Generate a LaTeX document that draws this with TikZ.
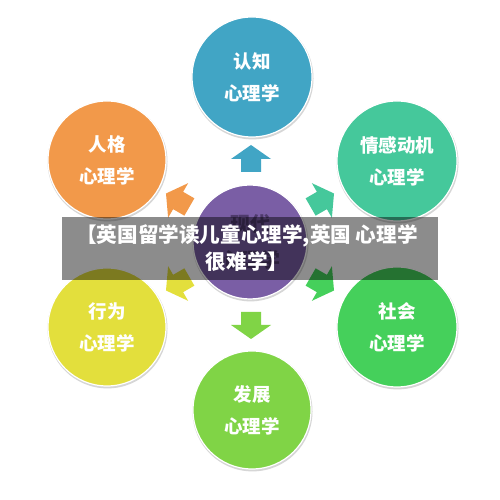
\documentclass[tikz,border=0pt]{standalone}
\usepackage{fontspec}
\newfontfamily\cjk{Noto Sans CJK SC}
\usetikzlibrary{calc}
\definecolor{cblue}{HTML}{41A5C5}
\definecolor{corange}{HTML}{F2994A}
\definecolor{cteal}{HTML}{45C89B}
\definecolor{cyellow}{HTML}{E3DF3C}
\definecolor{cgreen}{HTML}{45D05B}
\definecolor{clime}{HTML}{80D446}
\definecolor{cpurple}{HTML}{7A5EA5}
\definecolor{cpurtxt}{HTML}{4E3A6C}
\begin{document}
\begin{tikzpicture}[x=1pt,y=1pt,
  bubble/.style={circle, minimum size=#1, inner sep=0pt, draw=white, line width=1.2pt,
    text=white, align=center, font=\cjk\bfseries\fontsize{18.5}{32}\selectfont},
  shade/.style={fill=black!16}]
\useasboundingbox (0,0) rectangle (500,500);
\fill[white] (0,0) rectangle (500,500);
% shadows
\fill[shade] (252.5,421.6) circle (61);
\fill[shade] (107.5,338.6) circle (60);
\fill[shade] (397.5,337.6) circle (61);
\fill[shade] (107.5,171.6) circle (60);
\fill[shade] (397.5,171.6) circle (61);
\fill[shade] (252.5,88.6) circle (60);
\fill[shade] (250.5,256.6) circle (58);
% circles
\node[bubble=120pt, fill=cblue] (top) at (252,423) {认知\\心理学};
\node[bubble=118pt, fill=corange] (ul) at (107,340) {人格\\心理学};
\node[bubble=120pt, fill=cteal] (ur) at (397,339) {情感动机\\心理学};
\node[bubble=118pt, fill=cyellow] (ll) at (107,173) {行为\\心理学};
\node[bubble=120pt, fill=cgreen] (lr) at (397,173) {社会\\心理学};
\node[bubble=118pt, fill=clime] (bot) at (252,90) {发展\\心理学};
\node[bubble=114pt, fill=cpurple, text=cpurtxt, font=\cjk\bfseries\fontsize{20}{36}\selectfont] (c) at (250,258) {现代\\心理学};
% block arrows (pointing outward from the centre)
\foreach \ang/\col/\dx in {90/cblue/1, 270/clime/1, 150/corange/0, 30/cteal/0, 210/cyellow/0, 330/cgreen/0}{
  \coordinate (arr\ang) at ($(c)+(\ang:83)+(\dx,0)$);
  \fill[\col, shift={(arr\ang)}, rotate=\ang]
    (-13,-10) -- (0,-10) -- (0,-20) -- (14,0) -- (0,20) -- (0,10) -- (-13,10) -- cycle;
}
% banner
\node[fill=black, fill opacity=0.45, minimum width=376pt, minimum height=63pt, inner sep=0pt] (banner) at (250,251.5) {};
\node[text=white, align=center, inner sep=0pt, font=\cjk\bfseries\fontsize{20.6}{27}\selectfont] (btext) at (247,251.5) {【英国留学读儿童心理学,英国 心理学\\很难学】};
\end{tikzpicture}
\end{document}
